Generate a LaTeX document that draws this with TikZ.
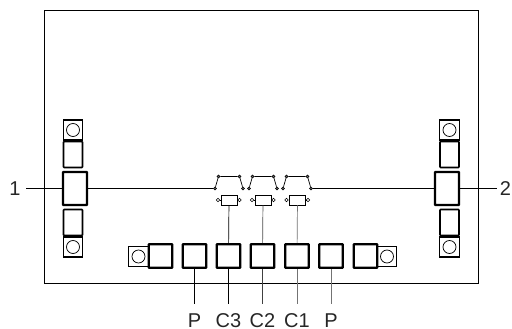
\documentclass[tikz,border=0pt]{standalone}
\usepackage{fontspec}
\setmainfont{Liberation Sans}
\usetikzlibrary{%
  positioning
 ,calc
}
\tikzstyle{pcb}=[x=1pt,y=-1pt,line width=0.6pt]
\tikzstyle{bigpad}=[rectangle,draw=black,fill=white,line width=2.4pt,rounded corners=0.5pt,minimum width=24pt,minimum height=33pt,inner sep=0pt]
\tikzstyle{pad}=[rectangle,draw=black,fill=white,line width=2.3pt,rounded corners=0.5pt,minimum width=23.5pt,minimum height=23.5pt,inner sep=0pt]
\tikzstyle{spad}=[rectangle,draw=black,fill=white,line width=1.6pt,rounded corners=0.8pt,minimum width=19pt,minimum height=26pt,inner sep=0pt]
\tikzstyle{via}=[rectangle,draw=black,fill=white,line width=1.3pt,minimum width=19.5pt,minimum height=20pt,inner sep=0pt]
\tikzstyle{hole}=[circle,draw=black,fill=white,line width=0.7pt,minimum size=13pt,inner sep=0pt]
\tikzstyle{dot}=[circle,draw=black,fill=black!60,line width=0.5pt,minimum size=3.2pt,inner sep=0pt]
\tikzstyle{term}=[circle,draw=black,fill=white,line width=0.6pt,minimum size=3.4pt,inner sep=0pt]
\tikzstyle{capbox}=[rectangle,draw=black,fill=white,line width=0.8pt,minimum width=16pt,minimum height=10pt,inner sep=0pt]
\tikzstyle{lbl}=[font=\fontsize{20}{20}\selectfont,inner sep=0pt,text=black!85]
\tikzstyle{wire}=[line width=0.7pt,black]
\begin{document}
\begin{tikzpicture}[pcb]
  \useasboundingbox (0,0) rectangle (512,329);
  \node[inner sep=0pt,outer sep=0pt] (frame) at (261.25,146.75) [draw=black,line width=0.8pt,minimum width=433.5pt,minimum height=273.5pt] {};
  % left side
  \node[bigpad] (pad_l) at (75,188.5) {};
  \node[via] (via_lu) at (73,130) {};
  \node[hole] at (via_lu) {};
  \node[spad] (pad_lu) at (73,154.5) {};
  \node[via] (via_ld) at (73,247) {};
  \node[hole] at (via_ld) {};
  \node[spad] (pad_ld) at (73,222.5) {};
  % right side
  \node[bigpad] (pad_r) at (447,188.5) {};
  \node[via] (via_ru) at (449.5,130) {};
  \node[hole] at (via_ru) {};
  \node[spad] (pad_ru) at (449.5,154.5) {};
  \node[via] (via_rd) at (449.5,247) {};
  \node[hole] at (via_rd) {};
  \node[spad] (pad_rd) at (449.5,222.5) {};
  % bottom row
  \node[via] (via_bl) at (138.5,256.5) {};
  \node[hole] at (via_bl) {};
  \node[via] (via_br) at (387,256.5) {};
  \node[hole] at (via_br) {};
  \foreach \name/\xx in {b0/160.5,b1/194.5,b2/228.5,b3/262.5,b4/297,b5/331,b6/365.5}
    \node[pad] (\name) at (\xx,256) {};
  % switches
  \foreach \name/\xx in {s1/215,s2/249,s3/283}{
    \node[dot] (\name a) at (\xx,188.5) {};
    \node[dot] (\name b) at (\xx+3.5,176.5) {};
    \node[dot] (\name c) at (\xx+24.5,176.5) {};
    \node[dot] (\name d) at (\xx+28,188.5) {};
    \draw[wire] (\name a) -- (\name b) -- (\name c) -- (\name d);
  }
  % capacitors
  \foreach \name/\xx in {c3/229,c2/263,c1/297.5}{
    \node[capbox] (\name) at (\xx,200) {};
    \node[term] (\name l) at (\xx-11,200) {};
    \node[term] (\name r) at (\xx+10.5,200) {};
    \draw[wire] (\name l) -- (\name) -- (\name r);
  }
  % terminals
  \coordinate (end_1) at (26,188.5);
  \coordinate (end_2) at (497,188.5);
  \node[lbl] (lab_1) at (15,188.5) {1};
  \node[lbl] (lab_2) at (505.5,188.5) {2};
  \draw[wire] (end_1) -- (pad_l);
  \draw[wire] (pad_r) -- (end_2);
  \draw[wire] (pad_l) -- (s1a);
  \draw[wire] (s3d) -- (pad_r);
  \draw[wire] (c3) -- (b2);
  \draw[wire,black!70] (c2) -- (b3);
  \draw[wire,black!55] (c1) -- (b4);
  % leads
  \foreach \name/\lab/\col in {b1/P/100,b2/C3/100,b3/C2/75,b4/C1/55,b5/P/55}{
    \coordinate (\name_end) at ($(\name.south)+(0,35.5)$);
    \draw[wire,black!\col] (\name) -- (\name_end);
    \node[lbl] (\name_lab) at ($(\name_end)+(0,16.5)$) {\lab};
  }
\end{tikzpicture}
\end{document}
